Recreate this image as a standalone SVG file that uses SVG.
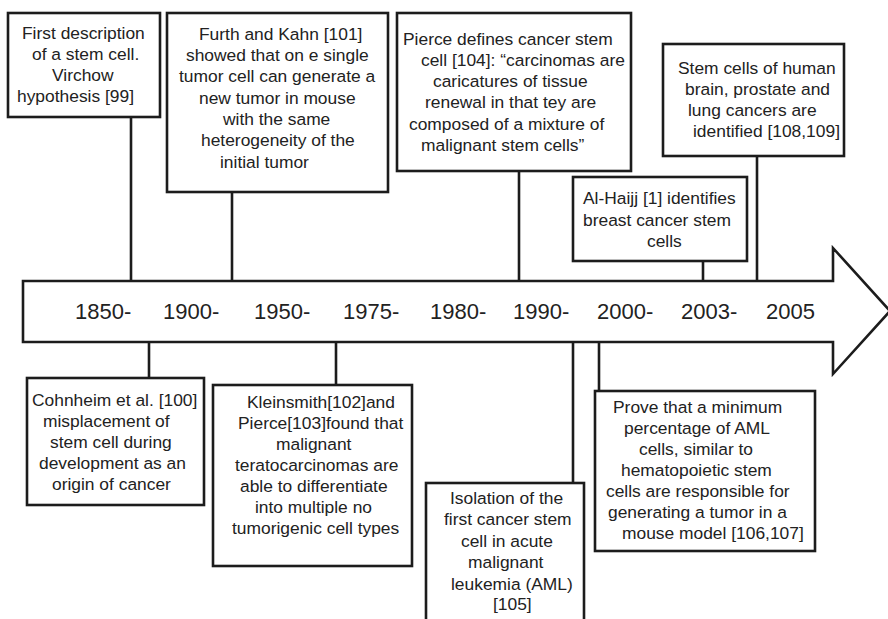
<svg xmlns="http://www.w3.org/2000/svg" width="888" height="619" viewBox="0 0 888 619">
<style>
.box{fill:#fff;stroke:#1c1c1c;stroke-width:2.6}
.ln{stroke:#1c1c1c;stroke-width:2.6;fill:none}
.t{font-family:"Liberation Sans",Arial,sans-serif;font-size:17.4px;fill:#222}
.yr{font-family:"Liberation Sans",Arial,sans-serif;font-size:22px;fill:#222}
</style>
<rect width="888" height="619" fill="#fff"/>
<g id="connectors">
<line class="ln" x1="131" y1="117" x2="131" y2="281"/>
<line class="ln" x1="232" y1="192" x2="232" y2="281"/>
<line class="ln" x1="519" y1="171" x2="519" y2="281"/>
<line class="ln" x1="703" y1="261" x2="703" y2="281"/>
<line class="ln" x1="757" y1="156" x2="757" y2="281"/>
<line class="ln" x1="149" y1="342" x2="149" y2="378"/>
<line class="ln" x1="336" y1="342" x2="336" y2="385"/>
<line class="ln" x1="573" y1="342" x2="573" y2="483"/>
<line class="ln" x1="599" y1="342" x2="599" y2="391"/>
</g>
<g id="timeline">
<path class="box" d="M23,281 L833,281 L833,248 L890,311 L833,374 L833,342 L23,342 Z"/>
<text class="yr" x="75" y="319">1850-</text>
<text class="yr" x="163" y="319">1900-</text>
<text class="yr" x="254" y="319">1950-</text>
<text class="yr" x="343" y="319">1975-</text>
<text class="yr" x="430" y="319">1980-</text>
<text class="yr" x="513" y="319">1990-</text>
<text class="yr" x="597" y="319">2000-</text>
<text class="yr" x="681" y="319">2003-</text>
<text class="yr" x="766" y="319">2005</text>
</g>
<g id="n1">
<rect class="box" x="8" y="13" width="152" height="104"/>
<text class="t"><tspan x="22" y="39">First description</tspan><tspan x="32" y="60">of a stem cell.</tspan><tspan x="52" y="81">Virchow</tspan><tspan x="17" y="102">hypothesis [99]</tspan></text>
</g>
<g id="n2">
<rect class="box" x="167" y="13" width="221" height="179"/>
<text class="t"><tspan x="199" y="39.5">Furth and Kahn [101]</tspan><tspan x="186" y="61">showed that on e single</tspan><tspan x="179" y="82">tumor cell can generate a</tspan><tspan x="199" y="103.5">new tumor in mouse</tspan><tspan x="223" y="125">with the same</tspan><tspan x="201" y="146">heterogeneity of the</tspan><tspan x="220" y="167.5">initial tumor</tspan></text>
</g>
<g id="n3">
<rect class="box" x="397" y="13" width="234" height="158"/>
<text class="t"><tspan x="403" y="45">Pierce defines cancer stem</tspan><tspan x="421" y="66">cell [104]: “carcinomas are</tspan><tspan x="433" y="87">caricatures of tissue</tspan><tspan x="425" y="108">renewal in that tey are</tspan><tspan x="409" y="129.5">composed of a mixture of</tspan><tspan x="421" y="151">malignant stem cells”</tspan></text>
</g>
<g id="n4">
<rect class="box" x="573" y="177" width="174" height="84"/>
<text class="t"><tspan x="583" y="204">Al-Haijj [1] identifies</tspan><tspan x="583" y="226">breast cancer stem</tspan><tspan x="647" y="247">cells</tspan></text>
</g>
<g id="n5">
<rect class="box" x="663" y="44" width="181" height="112"/>
<text class="t"><tspan x="678" y="74">Stem cells of human</tspan><tspan x="685" y="95">brain, prostate and</tspan><tspan x="688" y="116">lung cancers are</tspan><tspan x="693" y="137">identified [108,109]</tspan></text>
</g>
<g id="n6">
<rect class="box" x="27" y="378" width="177" height="127"/>
<text class="t"><tspan x="32" y="406">Cohnheim et al. [100]</tspan><tspan x="43" y="427">misplacement of</tspan><tspan x="50" y="448">stem cell during</tspan><tspan x="39" y="469">development as an</tspan><tspan x="52" y="490">origin of cancer</tspan></text>
</g>
<g id="n7">
<rect class="box" x="213" y="385" width="199" height="181"/>
<text class="t"><tspan x="247" y="408">Kleinsmith[102]and</tspan><tspan x="238" y="429">Pierce[103]found that</tspan><tspan x="276" y="450">malignant</tspan><tspan x="235" y="471">teratocarcinomas are</tspan><tspan x="240" y="492">able to differentiate</tspan><tspan x="255" y="513">into multiple no</tspan><tspan x="232" y="534">tumorigenic cell types</tspan></text>
</g>
<g id="n8">
<rect class="box" x="426" y="483" width="158" height="145"/>
<text class="t"><tspan x="450" y="504">Isolation of the</tspan><tspan x="444" y="525">first cancer stem</tspan><tspan x="461" y="547">cell in acute</tspan><tspan x="468" y="568">malignant</tspan><tspan x="451" y="590">leukemia (AML)</tspan><tspan x="493" y="610">[105]</tspan></text>
</g>
<g id="n9">
<rect class="box" x="595" y="391" width="220" height="160"/>
<text class="t"><tspan x="613" y="413">Prove that a minimum</tspan><tspan x="624" y="434">percentage of AML</tspan><tspan x="639" y="455">cells, similar to</tspan><tspan x="621" y="476">hematopoietic stem</tspan><tspan x="606" y="497">cells are responsible for</tspan><tspan x="608" y="518">generating a tumor in a</tspan><tspan x="622" y="539">mouse model [106,107]</tspan></text>
</g>
</svg>
